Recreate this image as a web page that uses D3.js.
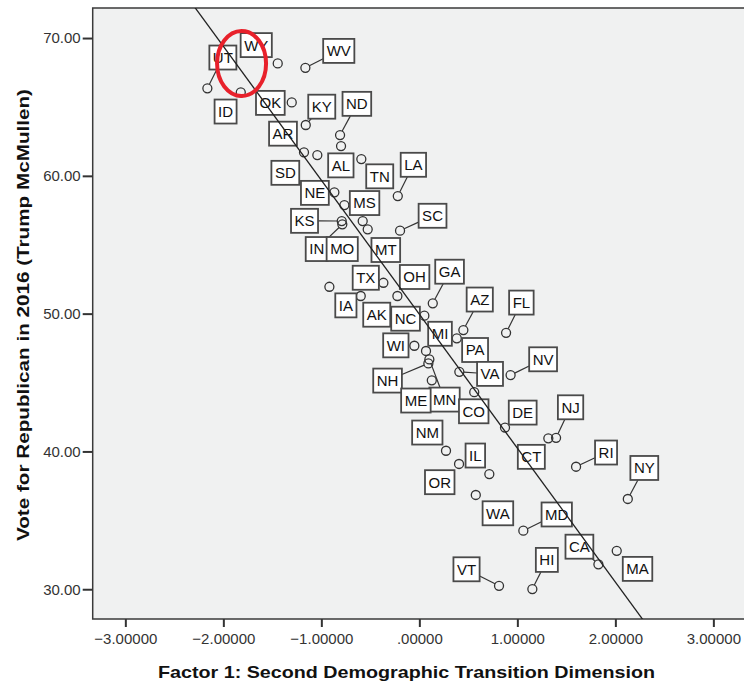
<!DOCTYPE html>
<html><head><meta charset="utf-8">
<script src="https://cdn.jsdelivr.net/npm/d3@7"></script>
<style>body{margin:0;background:#fff}svg{display:block}</style>
</head><body><svg id="c" width="744" height="688"></svg>
<script>
// ---- data ----
const states = ["WY","UT","WV","ID","OK","KY","ND","AR","SD","AL","TN","LA","NE","MS","KS","IN","MO","MT","SC","TX","IA","OH","AK","GA","NC","AZ","FL","PA","WI","MI","MN","NH","ME","VA","NV","CO","DE","NJ","CT","NM","RI","OR","IL","WA","NY","MD","CA","MA","VT","HI"];
const factor1 = [-1.445,-2.163,-1.163,-1.822,-1.302,-1.159,-0.809,-1.177,-1.041,-0.799,-0.592,-0.220,-0.867,-0.765,-0.792,-0.786,-0.578,-0.527,-0.197,-0.367,-0.918,-0.224,-0.598,0.137,0.051,0.449,0.885,0.382,-0.051,0.068,0.102,0.092,0.127,0.408,0.931,0.560,0.874,1.395,1.316,0.272,1.599,0.405,0.714,0.576,2.127,1.061,1.827,2.014,0.813,1.153];
const voteRep = [68.16,66.35,67.84,66.06,65.33,63.69,62.96,61.71,61.51,62.16,61.22,58.53,58.80,57.88,56.72,56.48,56.72,56.12,56.02,52.24,51.95,51.28,51.28,50.75,49.85,48.81,48.61,48.21,47.67,47.29,46.68,46.39,45.16,45.78,45.54,44.30,41.73,40.99,40.95,40.05,38.89,39.09,38.36,36.84,36.55,34.25,31.81,32.79,30.25,30.01];
const xTicks = [-3,-2,-1,0,1,2,3];
const yTicks = [30,40,50,60,70];
const xTitle = "Factor 1: Second Demographic Transition Dimension";
const yTitle = "Vote for Republican in 2016 (Trump McMullen)";
const fitIntercept = 49.96, fitSlope = -9.72;   // fitted line
const highlight = {x: -1.814, y: 68.15};         // red ellipse annotation centre

// ---- layout (label placement, px) ----
const labelDx = [-21.5,15.5,33.4,-15.2,-21.4,16,16.8,-21,-32,-0.2,18.4,15.6,-19.5,20.2,-37.2,-25.6,-20.5,18.1,32.5,-17.6,16.5,17.2,16,16.8,-18.8,16.4,15.3,18.3,-18.5,14,15.2,-40.8,-15.9,30.7,32.5,-0.5,17.7,14.5,-17,-18.7,30,-19.3,-14,22.1,16.5,33.4,-19,20.8,-32.5,14.5];
const labelDy = [-18.3,-30.8,-16.9,19.2,0.5,-18.3,-31.2,-18.6,17.8,19.3,17.3,-31.3,0.5,-2,-0.2,24.7,28,20.7,-14.9,-5,18.6,-19,18.7,-31.6,3,-30.5,-30.2,11.7,-0.4,-17.2,40.2,17.2,20.2,2.1,-15.8,19.1,-15,-30.5,18.5,-18.2,-14.2,18.2,-18.5,18.3,-31,-16.2,-17.6,18.1,-16.5,-29.2];
const leaderStates = ["UT","WV","KY","ND","LA","KS","IN","SC","GA","AZ","FL","NH","MN","VA","NV","DE","NJ","RI","NY","MD","CA","VT","HI"];

const FONT = "'Liberation Sans', Arial, sans-serif";
const svg = d3.select("#c");
const plot = {left: 92.7, top: 8, right: 746, bottom: 619};
const x = d3.scaleLinear().domain([-3.333, 3.333]).range([plot.left, plot.right]);
const y = d3.scaleLinear().domain([27.84, 72.18]).range([plot.bottom, plot.top]);

svg.append("defs").append("clipPath").attr("id","clip")
  .append("rect").attr("x",plot.left).attr("y",plot.top)
  .attr("width",plot.right-plot.left).attr("height",plot.bottom-plot.top);

svg.append("rect").attr("x",plot.left).attr("y",plot.top)
  .attr("width",plot.right-plot.left).attr("height",plot.bottom-plot.top)
  .attr("fill","#f0f1f1").attr("stroke","#3a3a3a").attr("stroke-width",1.5);

// axes
const xFmt = v => { let s = d3.format(".5f")(v); return s.replace(/^0\./, ".").replace(/^-0\./, "-."); };
const xAxis = svg.append("g").attr("transform",`translate(0,${plot.bottom})`)
  .call(d3.axisBottom(x).tickValues(xTicks).tickFormat(xFmt).tickSize(8).tickPadding(6).tickSizeOuter(0));
const yAxis = svg.append("g").attr("transform",`translate(${plot.left},0)`)
  .call(d3.axisLeft(y).tickValues(yTicks).tickFormat(d3.format(".2f")).tickSize(10).tickPadding(2).tickSizeOuter(0));
[xAxis,yAxis].forEach(g=>{
  g.select(".domain").remove();
  g.selectAll(".tick line").attr("stroke","#333").attr("stroke-width",2);
  g.selectAll(".tick text").attr("fill","#333").style("font-family",FONT).style("font-size","15px");
});

// titles
svg.append("text").attr("x",(158+655)/2).attr("y",678).attr("text-anchor","middle")
  .attr("textLength",497).attr("lengthAdjust","spacingAndGlyphs")
  .style("font-family",FONT).style("font-size","17px").style("font-weight","bold").attr("fill","#111")
  .text(xTitle);
svg.append("text").attr("transform","translate(29,315) rotate(-90)").attr("text-anchor","middle")
  .attr("textLength",452).attr("lengthAdjust","spacingAndGlyphs")
  .style("font-family",FONT).style("font-size","17px").style("font-weight","bold").attr("fill","#111")
  .text(yTitle);

// data rows
const rows = states.map((s,i)=>({s, px:x(factor1[i]), py:y(voteRep[i]), dx:labelDx[i], dy:labelDy[i]}));
const R = 4.5;
const gPlot = svg.append("g").attr("clip-path","url(#clip)");

// points
gPlot.selectAll("circle.pt").data(rows).join("circle").attr("class","pt")
  .attr("cx",d=>d.px).attr("cy",d=>d.py).attr("r",R)
  .attr("fill","none").attr("stroke","#333").attr("stroke-width",1.3);

// measure label text widths
const meas = svg.append("text").style("font-family",FONT).style("font-size","15px");
rows.forEach(d=>{ meas.text(d.s); d.w = meas.node().getComputedTextLength()+7; d.h = 24; });
meas.remove();

// leaders
rows.filter(d=>leaderStates.includes(d.s)).forEach(d=>{
  const cx = d.px+d.dx, cy = d.py+d.dy;
  const vx = d.px-cx, vy = d.py-cy;
  const t = Math.min((d.w/2)/Math.max(Math.abs(vx),1e-6),(d.h/2)/Math.max(Math.abs(vy),1e-6));
  const ex = cx+vx*t, ey = cy+vy*t;
  const len = Math.hypot(vx,vy);
  const sx = d.px - vx/len*R, sy = d.py - vy/len*R;
  gPlot.append("line").attr("x1",sx).attr("y1",sy).attr("x2",ex).attr("y2",ey)
    .attr("stroke","#333").attr("stroke-width",1.2);
});

// label boxes
const lab = gPlot.selectAll("g.lab").data(rows).join("g").attr("class","lab")
  .attr("transform",d=>`translate(${d.px+d.dx},${d.py+d.dy})`);
lab.append("rect").attr("x",d=>-d.w/2).attr("y",d=>-d.h/2).attr("width",d=>d.w).attr("height",d=>d.h)
  .attr("fill","#fff").attr("stroke","#4a4a4a").attr("stroke-width",1.8);
lab.append("text").attr("text-anchor","middle").attr("dy","0.36em")
  .style("font-family",FONT).style("font-size","15px").attr("fill","#111").text(d=>d.s);

// fit line
const xd = x.domain();
gPlot.append("line")
  .attr("x1",x(xd[0])).attr("y1",y(fitIntercept+fitSlope*xd[0]))
  .attr("x2",x(xd[1])).attr("y2",y(fitIntercept+fitSlope*xd[1]))
  .attr("stroke","#222").attr("stroke-width",1.3);

// red highlight ellipse
svg.append("ellipse").attr("cx",x(highlight.x)).attr("cy",y(highlight.y))
  .attr("rx",24.5).attr("ry",32.5).attr("fill","none")
  .attr("stroke","#e8212b").attr("stroke-width",4);
</script></body></html>
